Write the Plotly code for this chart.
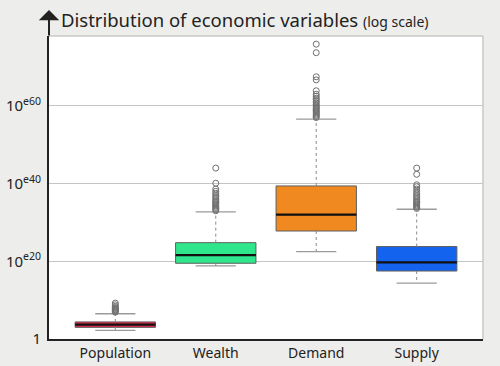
import plotly.graph_objects as go

categories = ["Population", "Wealth", "Demand", "Supply"]
positions = [1, 2, 3, 4]
colors = ["#e5294b", "#2fe68d", "#f0891f", "#1463ee"]

# values given as log10 exponents (value = 10 ** exponent)
q1_exp = [3.0, 19.5, 27.8, 17.5]
median_exp = [3.7, 21.6, 32.0, 19.7]
q3_exp = [4.4, 24.8, 39.4, 23.8]
lower_exp = [2.2, 18.8, 22.5, 14.4]
upper_exp = [6.5, 32.7, 56.6, 33.4]

population_outliers = [6.9, 7.1, 7.3, 7.5, 7.7, 7.9, 8.1, 8.4, 8.8, 9.25]
wealth_outliers = [33.0, 33.3, 33.6, 33.9, 34.2, 34.5, 34.8, 35.1, 35.4, 35.8,
                   36.2, 36.6, 37.0, 37.5, 38.0, 38.6, 40.1, 44.0]
demand_outliers = [57.0, 57.3, 57.6, 57.9, 58.2, 58.5, 58.8, 59.1, 59.4, 59.7,
                   60.0, 60.4, 60.8, 61.2, 61.6, 62.0, 62.5, 63.0, 63.9, 66.7,
                   67.5, 73.7, 75.9]
supply_outliers = [33.6, 33.9, 34.2, 34.5, 34.8, 35.1, 35.4, 35.8, 36.2, 36.6,
                   37.0, 37.5, 38.0, 38.6, 39.2, 39.7, 42.4, 44.0]
outliers = [population_outliers, wealth_outliers, demand_outliers, supply_outliers]

y_tick_exp = [0, 20, 40, 60]
y_tick_text = ["1", "10<sup>e20</sup>", "10<sup>e40</sup>", "10<sup>e60</sup>"]
y_range_exp = [0, 78]

box_width = 0.8
cap_width = 0.4


def val(e):
    return float(10.0 ** e)


fig = go.Figure()

for i, pos in enumerate(positions):
    # dashed whiskers
    fig.add_trace(go.Scatter(
        x=[pos, pos, None, pos, pos],
        y=[val(q3_exp[i]), val(upper_exp[i]), None, val(q1_exp[i]), val(lower_exp[i])],
        mode="lines", line=dict(color="#8a8a8a", width=1, dash="3px,3px"),
        hoverinfo="skip", showlegend=False))
    # caps
    fig.add_trace(go.Scatter(
        x=[pos - cap_width / 2, pos + cap_width / 2, None, pos - cap_width / 2, pos + cap_width / 2],
        y=[val(upper_exp[i]), val(upper_exp[i]), None, val(lower_exp[i]), val(lower_exp[i])],
        mode="lines", line=dict(color="#9a9a9a", width=1.3),
        hoverinfo="skip", showlegend=False))

for i, pos in enumerate(positions):
    fig.add_trace(go.Box(
        x=[pos], q1=[val(q1_exp[i])], median=[val(median_exp[i])], q3=[val(q3_exp[i])],
        lowerfence=[val(q1_exp[i])], upperfence=[val(q3_exp[i])],
        width=box_width, whiskerwidth=0, fillcolor=colors[i],
        line=dict(color="#5f5f5f", width=1), boxpoints=False,
        showlegend=False, hoverinfo="skip"))
    # median line
    fig.add_trace(go.Scatter(
        x=[pos - box_width / 2, pos + box_width / 2],
        y=[val(median_exp[i]), val(median_exp[i])],
        mode="lines", line=dict(color="#111111", width=2.2),
        hoverinfo="skip", showlegend=False))
    # outliers
    fig.add_trace(go.Scatter(
        x=[pos] * len(outliers[i]), y=[val(v) for v in outliers[i]],
        mode="markers",
        marker=dict(symbol="circle-open", size=6, color="#707070", line=dict(width=1)),
        hoverinfo="skip", showlegend=False))

font_family = "Noto Sans, DejaVu Sans, sans-serif"

fig.update_layout(
    width=500, height=366,
    margin=dict(l=49, r=17, t=36, b=27),
    paper_bgcolor="#ededeb", plot_bgcolor="#ffffff",
    font=dict(family=font_family, color="#222222"),
    xaxis=dict(range=[0.34, 4.66], tickvals=positions, ticktext=categories,
               showgrid=False, zeroline=False, showline=True, linecolor="#222222",
               linewidth=2, ticks="", automargin=False,
               tickfont=dict(size=14, color="#222222")),
    yaxis=dict(type="log", range=y_range_exp, tickvals=[val(e) for e in y_tick_exp],
               ticktext=y_tick_text, showgrid=True, gridcolor="#c4c4c4", gridwidth=1,
               zeroline=False, showline=True, linecolor="#222222", linewidth=2,
               ticks="", automargin=False, ticklabelstandoff=3,
               tickfont=dict(size=15, color="#222222")),
    shapes=[
        dict(type="line", xref="paper", yref="paper", x0=0, x1=1, y0=1, y1=1,
             line=dict(color="#c8c8c8", width=1.5), layer="above"),
        dict(type="line", xref="paper", yref="paper", x0=1, x1=1, y0=0, y1=1,
             line=dict(color="#c8c8c8", width=1.5), layer="above"),
    ],
    annotations=[
        dict(x=0, y=1.086, xref="paper", yref="paper", ax=0, ay=27, text="",
             showarrow=True, arrowhead=1, arrowsize=1.7, arrowwidth=2, arrowcolor="#222222"),
        dict(x=10 / 434, y=1.053, xref="paper", yref="paper",
             xanchor="left", yanchor="middle", showarrow=False,
             text="Distribution of economic variables <span style='font-size:14px'>(log scale)</span>",
             font=dict(size=18.5, color="#222222")),
    ],
)

fig.write_html("out.html", config={"displayModeBar": False},
               post_script="document.body.style.margin='0';document.body.style.background='#ededeb';")
